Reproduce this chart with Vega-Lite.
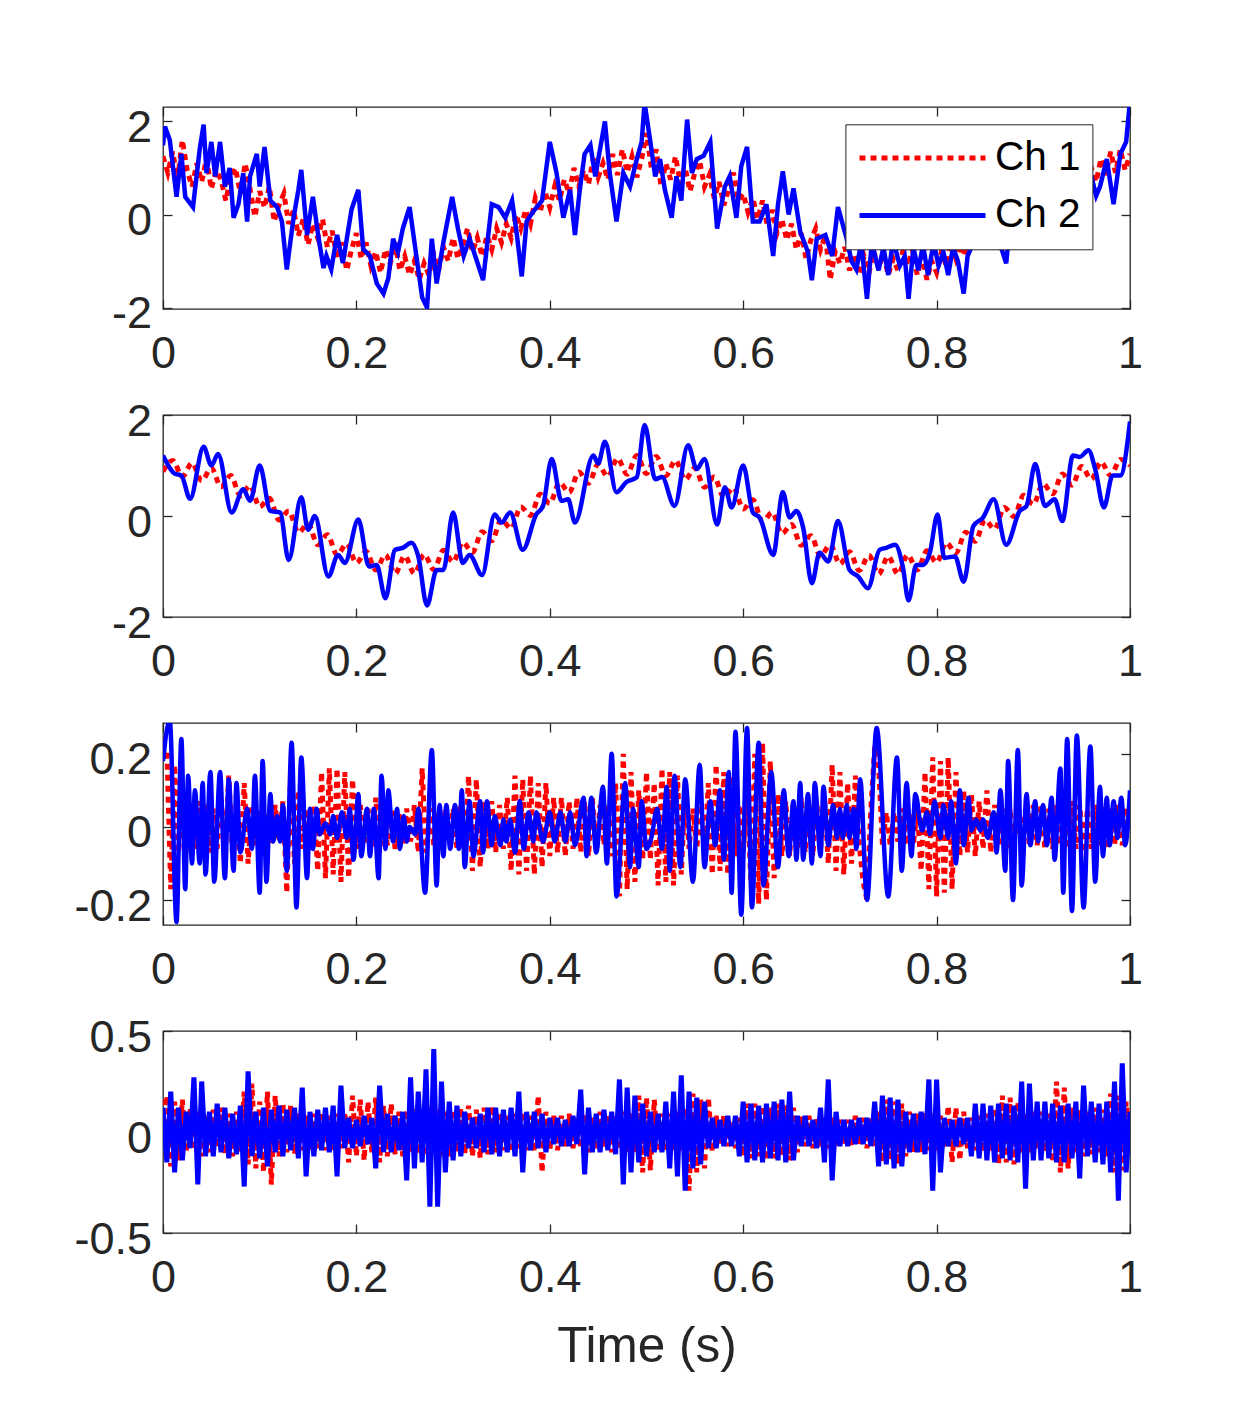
{
  "$schema": "https://vega.github.io/schema/vega-lite/v6.json",
  "background": "white",
  "padding": {"left": 73, "top": 104, "right": 20, "bottom": 10},
  "bounds": "flush",
  "spacing": 106,
  "config": {
    "font": "Liberation Sans",
    "view": {"stroke": "#262626", "strokeWidth": 1.3},
    "axis": {
      "grid": false, "domain": false,
      "tickColor": "#262626", "tickWidth": 1.3, "tickSize": -9,
      "labelColor": "#262626", "labelFont": "Liberation Sans", "labelFontSize": 45,
      "labelFlush": false, "labelOverlap": false
    }
  },
  "resolve": {"scale": {"color": "independent"}, "legend": {"color": "independent"}},
  "datasets": {
    "p1r": [
      {"t":0,"v":1.25},{"t":0.005,"v":0.9},{"t":0.01,"v":1.35},{"t":0.015,"v":0.75},{"t":0.02,"v":1.6},{"t":0.025,"v":0.95},{"t":0.03,"v":0.6},{"t":0.035,"v":1.1},{"t":0.04,"v":0.7},{"t":0.045,"v":1.2},
      {"t":0.05,"v":0.55},{"t":0.055,"v":0.95},{"t":0.06,"v":0.75},{"t":0.065,"v":0.3},{"t":0.07,"v":0.8},{"t":0.075,"v":1.0},{"t":0.08,"v":0.45},{"t":0.085,"v":1.1},{"t":0.09,"v":0.55},{"t":0.095,"v":-0.05},
      {"t":0.1,"v":0.5},{"t":0.105,"v":0.15},{"t":0.11,"v":0.6},{"t":0.115,"v":-0.15},{"t":0.12,"v":0.2},{"t":0.125,"v":0.45},{"t":0.13,"v":-0.2},{"t":0.135,"v":0.1},{"t":0.14,"v":-0.45},{"t":0.145,"v":-0.1},
      {"t":0.15,"v":-0.65},{"t":0.155,"v":-0.2},{"t":0.16,"v":-0.5},{"t":0.165,"v":-0.1},{"t":0.17,"v":-0.7},{"t":0.175,"v":-0.35},{"t":0.18,"v":-0.95},{"t":0.185,"v":-0.6},{"t":0.19,"v":-1.2},{"t":0.195,"v":-0.75},
      {"t":0.2,"v":-0.4},{"t":0.205,"v":-0.95},{"t":0.21,"v":-0.6},{"t":0.215,"v":-1.1},{"t":0.22,"v":-0.8},{"t":0.225,"v":-1.25},{"t":0.23,"v":-0.75},{"t":0.235,"v":-1.05},{"t":0.24,"v":-0.6},{"t":0.245,"v":-1.2},
      {"t":0.25,"v":-0.9},{"t":0.255,"v":-1.3},{"t":0.26,"v":-1.0},{"t":0.265,"v":-1.4},{"t":0.27,"v":-1.05},{"t":0.275,"v":-1.3},{"t":0.28,"v":-0.85},{"t":0.285,"v":-1.2},{"t":0.29,"v":-0.7},{"t":0.295,"v":-1.0},
      {"t":0.3,"v":-0.5},{"t":0.305,"v":-0.95},{"t":0.31,"v":-0.65},{"t":0.315,"v":-0.3},{"t":0.32,"v":-0.8},{"t":0.325,"v":-0.5},{"t":0.33,"v":-0.9},{"t":0.335,"v":-0.45},{"t":0.34,"v":-0.75},{"t":0.345,"v":-0.3},
      {"t":0.35,"v":-0.6},{"t":0.355,"v":-0.2},{"t":0.36,"v":-0.5},{"t":0.365,"v":0.0},{"t":0.37,"v":-0.3},{"t":0.375,"v":0.1},{"t":0.38,"v":-0.2},{"t":0.385,"v":0.35},{"t":0.39,"v":0.05},{"t":0.395,"v":0.5},
      {"t":0.4,"v":0.15},{"t":0.405,"v":0.6},{"t":0.41,"v":0.3},{"t":0.415,"v":0.75},{"t":0.42,"v":0.45},{"t":0.425,"v":1.0},{"t":0.43,"v":0.6},{"t":0.435,"v":0.95},{"t":0.44,"v":0.65},{"t":0.445,"v":1.2},
      {"t":0.45,"v":0.8},{"t":0.455,"v":1.1},{"t":0.46,"v":0.75},{"t":0.465,"v":1.3},{"t":0.47,"v":0.85},{"t":0.475,"v":1.4},{"t":0.48,"v":0.9},{"t":0.485,"v":1.25},{"t":0.49,"v":0.8},{"t":0.495,"v":1.2},
      {"t":0.5,"v":1.75},{"t":0.505,"v":1.0},{"t":0.51,"v":1.4},{"t":0.515,"v":0.6},{"t":0.52,"v":1.1},{"t":0.525,"v":0.75},{"t":0.53,"v":1.25},{"t":0.535,"v":0.65},{"t":0.54,"v":1.0},{"t":0.545,"v":0.5},
      {"t":0.55,"v":0.9},{"t":0.555,"v":1.15},{"t":0.56,"v":0.6},{"t":0.565,"v":0.85},{"t":0.57,"v":0.35},{"t":0.575,"v":0.7},{"t":0.58,"v":0.2},{"t":0.585,"v":0.55},{"t":0.59,"v":0.9},{"t":0.595,"v":0.3},
      {"t":0.6,"v":0.45},{"t":0.605,"v":0.05},{"t":0.61,"v":0.35},{"t":0.615,"v":-0.1},{"t":0.62,"v":0.3},{"t":0.625,"v":-0.25},{"t":0.63,"v":0.1},{"t":0.635,"v":-0.4},{"t":0.64,"v":-0.1},{"t":0.645,"v":-0.55},
      {"t":0.65,"v":-0.2},{"t":0.655,"v":-0.75},{"t":0.66,"v":-0.4},{"t":0.665,"v":-0.95},{"t":0.67,"v":-0.55},{"t":0.675,"v":-0.3},{"t":0.68,"v":-0.75},{"t":0.685,"v":-0.45},{"t":0.69,"v":-1.4},{"t":0.695,"v":-0.8},
      {"t":0.7,"v":-1.05},{"t":0.705,"v":-0.7},{"t":0.71,"v":-1.2},{"t":0.715,"v":-0.85},{"t":0.72,"v":-1.3},{"t":0.725,"v":-0.9},{"t":0.73,"v":-1.25},{"t":0.735,"v":-0.8},{"t":0.74,"v":-1.15},{"t":0.745,"v":-0.85},
      {"t":0.75,"v":-1.3},{"t":0.755,"v":-0.95},{"t":0.76,"v":-1.2},{"t":0.765,"v":-0.8},{"t":0.77,"v":-1.1},{"t":0.775,"v":-0.75},{"t":0.78,"v":-1.3},{"t":0.785,"v":-0.9},{"t":0.79,"v":-1.4},{"t":0.795,"v":-1.0},
      {"t":0.8,"v":-1.25},{"t":0.805,"v":-0.8},{"t":0.81,"v":-1.1},{"t":0.815,"v":-0.6},{"t":0.82,"v":-0.95},{"t":0.825,"v":-0.65},{"t":0.83,"v":-0.9},{"t":0.835,"v":-0.5},{"t":0.84,"v":-0.7},{"t":0.845,"v":-0.25},
      {"t":0.85,"v":-0.5},{"t":0.855,"v":-0.1},{"t":0.86,"v":-0.35},{"t":0.865,"v":0.05},{"t":0.87,"v":-0.2},{"t":0.875,"v":0.3},{"t":0.88,"v":0.0},{"t":0.885,"v":0.45},{"t":0.89,"v":0.2},{"t":0.895,"v":0.55},
      {"t":0.9,"v":0.3},{"t":0.905,"v":0.7},{"t":0.91,"v":0.4},{"t":0.915,"v":0.8},{"t":0.92,"v":0.55},{"t":0.925,"v":0.95},{"t":0.93,"v":0.6},{"t":0.935,"v":1.0},{"t":0.94,"v":0.7},{"t":0.945,"v":1.1},
      {"t":0.95,"v":0.75},{"t":0.955,"v":0.55},{"t":0.96,"v":1.0},{"t":0.965,"v":0.7},{"t":0.97,"v":1.2},{"t":0.975,"v":0.85},{"t":0.98,"v":1.35},{"t":0.985,"v":0.9},{"t":0.99,"v":1.4},{"t":0.995,"v":0.95},
      {"t":1,"v":1.3}
    ],
    "p1b": [
      {"t":0,"v":1.49},{"t":0.002,"v":1.89},{"t":0.007,"v":1.6},{"t":0.014,"v":0.38},{"t":0.019,"v":1.3},{"t":0.023,"v":0.38},{"t":0.031,"v":0.16},{"t":0.038,"v":1.41},{"t":0.042,"v":1.93},{"t":0.045,"v":0.89},
      {"t":0.05,"v":1.56},{"t":0.054,"v":0.82},{"t":0.059,"v":1.56},{"t":0.064,"v":0.6},{"t":0.069,"v":1.0},{"t":0.073,"v":-0.07},{"t":0.078,"v":0.22},{"t":0.083,"v":0.89},{"t":0.087,"v":-0.15},{"t":0.09,"v":0.82},
      {"t":0.097,"v":1.3},{"t":0.1,"v":0.6},{"t":0.105,"v":1.45},{"t":0.111,"v":0.3},{"t":0.118,"v":0.16},{"t":0.123,"v":-0.15},{"t":0.128,"v":-1.18},{"t":0.135,"v":-0.07},{"t":0.14,"v":0.53},{"t":0.143,"v":0.96},
      {"t":0.149,"v":-0.44},{"t":0.155,"v":0.38},{"t":0.161,"v":-0.52},{"t":0.166,"v":-1.15},{"t":0.169,"v":-0.89},{"t":0.174,"v":-1.18},{"t":0.18,"v":-0.44},{"t":0.186,"v":-1.04},{"t":0.195,"v":0.11},{"t":0.202,"v":0.53},
      {"t":0.207,"v":-0.74},{"t":0.214,"v":-0.89},{"t":0.221,"v":-1.48},{"t":0.228,"v":-1.7},{"t":0.233,"v":-1.37},{"t":0.238,"v":-0.52},{"t":0.243,"v":-0.81},{"t":0.248,"v":-0.3},{"t":0.255,"v":0.16},{"t":0.261,"v":-0.74},
      {"t":0.268,"v":-1.78},{"t":0.273,"v":-2.0},{"t":0.278,"v":-0.52},{"t":0.283,"v":-1.48},{"t":0.29,"v":-0.59},{"t":0.299,"v":0.38},{"t":0.305,"v":-0.3},{"t":0.311,"v":-0.89},{"t":0.317,"v":-0.52},{"t":0.324,"v":-0.96},
      {"t":0.331,"v":-1.41},{"t":0.34,"v":0.22},{"t":0.347,"v":0.16},{"t":0.354,"v":-0.07},{"t":0.361,"v":0.3},{"t":0.366,"v":-0.44},{"t":0.371,"v":-1.33},{"t":0.376,"v":-0.15},{"t":0.383,"v":0.07},{"t":0.392,"v":0.3},
      {"t":0.4,"v":1.56},{"t":0.407,"v":0.89},{"t":0.414,"v":-0.07},{"t":0.421,"v":0.53},{"t":0.426,"v":-0.44},{"t":0.431,"v":0.53},{"t":0.436,"v":1.3},{"t":0.442,"v":1.49},{"t":0.447,"v":0.82},{"t":0.457,"v":2.0},
      {"t":0.462,"v":0.89},{"t":0.469,"v":-0.15},{"t":0.476,"v":0.89},{"t":0.483,"v":0.6},{"t":0.49,"v":1.19},{"t":0.495,"v":1.56},{"t":0.498,"v":2.4},{"t":0.504,"v":1.56},{"t":0.509,"v":0.82},{"t":0.514,"v":1.19},
      {"t":0.519,"v":0.53},{"t":0.526,"v":-0.07},{"t":0.531,"v":0.82},{"t":0.536,"v":0.3},{"t":0.542,"v":2.04},{"t":0.547,"v":0.89},{"t":0.552,"v":1.19},{"t":0.559,"v":1.26},{"t":0.566,"v":1.56},{"t":0.573,"v":-0.3},
      {"t":0.581,"v":0.6},{"t":0.586,"v":0.82},{"t":0.593,"v":-0.07},{"t":0.598,"v":1.04},{"t":0.604,"v":1.45},{"t":0.61,"v":-0.15},{"t":0.617,"v":-0.15},{"t":0.624,"v":0.22},{"t":0.631,"v":-0.89},{"t":0.636,"v":0.22},
      {"t":0.641,"v":0.93},{"t":0.647,"v":0.0},{"t":0.652,"v":0.56},{"t":0.659,"v":-0.37},{"t":0.667,"v":-0.81},{"t":0.671,"v":-1.41},{"t":0.676,"v":-0.52},{"t":0.685,"v":-0.44},{"t":0.692,"v":-0.89},{"t":0.698,"v":0.16},
      {"t":0.707,"v":-0.52},{"t":0.712,"v":-1.0},{"t":0.717,"v":-1.18},{"t":0.722,"v":-0.6},{"t":0.728,"v":-1.81},{"t":0.733,"v":-0.6},{"t":0.74,"v":-1.2},{"t":0.745,"v":-0.7},{"t":0.75,"v":-1.3},{"t":0.755,"v":-0.55},
      {"t":0.762,"v":-1.1},{"t":0.767,"v":-0.9},{"t":0.771,"v":-1.81},{"t":0.776,"v":-0.7},{"t":0.781,"v":-1.2},{"t":0.786,"v":-0.65},{"t":0.791,"v":-1.3},{"t":0.797,"v":-0.6},{"t":0.802,"v":-1.1},{"t":0.807,"v":-0.8},
      {"t":0.812,"v":-1.3},{"t":0.817,"v":-0.7},{"t":0.822,"v":-1.0},{"t":0.828,"v":-1.7},{"t":0.832,"v":-0.9},{"t":0.838,"v":-0.6},{"t":0.845,"v":-0.2},{"t":0.852,"v":0.4},{"t":0.858,"v":0.1},{"t":0.865,"v":-0.6},
      {"t":0.872,"v":-1.05},{"t":0.878,"v":0.3},{"t":0.885,"v":-0.2},{"t":0.892,"v":0.5},{"t":0.898,"v":1.2},{"t":0.905,"v":0.8},{"t":0.912,"v":0.1},{"t":0.918,"v":0.6},{"t":0.925,"v":-0.3},{"t":0.932,"v":0.2},
      {"t":0.938,"v":1.3},{"t":0.945,"v":0.9},{"t":0.952,"v":1.5},{"t":0.958,"v":1.0},{"t":0.965,"v":0.4},{"t":0.969,"v":0.6},{"t":0.976,"v":1.19},{"t":0.983,"v":0.22},{"t":0.99,"v":1.3},{"t":0.996,"v":1.56},
      {"t":1,"v":2.44}
    ],
    "p2r": [
      {"t":0,"v":0.88},{"t":0.01,"v":1.1},{"t":0.02,"v":0.78},{"t":0.03,"v":1.05},{"t":0.04,"v":0.7},{"t":0.05,"v":0.95},{"t":0.06,"v":0.58},{"t":0.07,"v":0.8},{"t":0.08,"v":0.4},{"t":0.09,"v":0.6},
      {"t":0.1,"v":0.18},{"t":0.11,"v":0.35},{"t":0.12,"v":-0.08},{"t":0.13,"v":0.1},{"t":0.14,"v":-0.33},{"t":0.15,"v":-0.15},{"t":0.16,"v":-0.57},{"t":0.17,"v":-0.37},{"t":0.18,"v":-0.77},{"t":0.19,"v":-0.55},
      {"t":0.2,"v":-0.93},{"t":0.21,"v":-0.7},{"t":0.22,"v":-1.07},{"t":0.23,"v":-0.77},{"t":0.24,"v":-1.14},{"t":0.25,"v":-0.79},{"t":0.26,"v":-1.14},{"t":0.27,"v":-0.76},{"t":0.28,"v":-1.06},{"t":0.29,"v":-0.68},
      {"t":0.3,"v":-0.91},{"t":0.31,"v":-0.52},{"t":0.32,"v":-0.72},{"t":0.33,"v":-0.31},{"t":0.34,"v":-0.49},{"t":0.35,"v":-0.07},{"t":0.36,"v":-0.25},{"t":0.37,"v":0.18},{"t":0.38,"v":0.01},{"t":0.39,"v":0.43},
      {"t":0.4,"v":0.25},{"t":0.41,"v":0.66},{"t":0.42,"v":0.47},{"t":0.43,"v":0.87},{"t":0.44,"v":0.65},{"t":0.45,"v":1.02},{"t":0.46,"v":0.78},{"t":0.47,"v":1.14},{"t":0.48,"v":0.83},{"t":0.49,"v":1.2},
      {"t":0.5,"v":0.84},{"t":0.51,"v":1.18},{"t":0.52,"v":0.8},{"t":0.53,"v":1.1},{"t":0.54,"v":0.72},{"t":0.55,"v":0.95},{"t":0.56,"v":0.57},{"t":0.57,"v":0.77},{"t":0.58,"v":0.37},{"t":0.59,"v":0.56},
      {"t":0.6,"v":0.14},{"t":0.61,"v":0.32},{"t":0.62,"v":-0.11},{"t":0.63,"v":0.07},{"t":0.64,"v":-0.35},{"t":0.65,"v":-0.17},{"t":0.66,"v":-0.58},{"t":0.67,"v":-0.39},{"t":0.68,"v":-0.79},{"t":0.69,"v":-0.57},
      {"t":0.7,"v":-0.95},{"t":0.71,"v":-0.71},{"t":0.72,"v":-1.08},{"t":0.73,"v":-0.78},{"t":0.74,"v":-1.15},{"t":0.75,"v":-0.8},{"t":0.76,"v":-1.15},{"t":0.77,"v":-0.77},{"t":0.78,"v":-1.07},{"t":0.79,"v":-0.69},
      {"t":0.8,"v":-0.92},{"t":0.81,"v":-0.53},{"t":0.82,"v":-0.73},{"t":0.83,"v":-0.32},{"t":0.84,"v":-0.5},{"t":0.85,"v":-0.08},{"t":0.86,"v":-0.26},{"t":0.87,"v":0.17},{"t":0.88,"v":-0.01},{"t":0.89,"v":0.41},
      {"t":0.9,"v":0.23},{"t":0.91,"v":0.64},{"t":0.92,"v":0.44},{"t":0.93,"v":0.83},{"t":0.94,"v":0.61},{"t":0.95,"v":0.98},{"t":0.96,"v":0.73},{"t":0.97,"v":1.07},{"t":0.98,"v":0.8},{"t":0.99,"v":1.12},
      {"t":1,"v":1.0}
    ],
    "p2b": [
      {"t":0,"v":1.2},{"t":0.012,"v":0.84},{"t":0.019,"v":0.8},{"t":0.028,"v":0.34},{"t":0.042,"v":1.37},{"t":0.05,"v":1.0},{"t":0.057,"v":1.23},{"t":0.071,"v":0.07},{"t":0.083,"v":0.53},{"t":0.09,"v":0.3},
      {"t":0.1,"v":1.0},{"t":0.111,"v":0.1},{"t":0.121,"v":0.07},{"t":0.13,"v":-0.87},{"t":0.143,"v":0.37},{"t":0.15,"v":-0.27},{"t":0.157,"v":0.0},{"t":0.171,"v":-1.2},{"t":0.181,"v":-0.77},{"t":0.188,"v":-0.93},
      {"t":0.202,"v":-0.07},{"t":0.213,"v":-1.0},{"t":0.221,"v":-0.97},{"t":0.23,"v":-1.63},{"t":0.24,"v":-0.67},{"t":0.248,"v":-0.63},{"t":0.257,"v":-0.53},{"t":0.264,"v":-0.8},{"t":0.273,"v":-1.77},{"t":0.283,"v":-1.07},
      {"t":0.29,"v":-1.07},{"t":0.3,"v":0.07},{"t":0.31,"v":-0.93},{"t":0.317,"v":-0.77},{"t":0.33,"v":-1.17},{"t":0.343,"v":0.03},{"t":0.35,"v":-0.13},{"t":0.359,"v":0.07},{"t":0.372,"v":-0.67},{"t":0.386,"v":0.03},
      {"t":0.393,"v":0.2},{"t":0.402,"v":1.13},{"t":0.412,"v":0.3},{"t":0.419,"v":0.33},{"t":0.426,"v":-0.13},{"t":0.445,"v":1.2},{"t":0.45,"v":1.04},{"t":0.457,"v":1.47},{"t":0.469,"v":0.47},{"t":0.479,"v":0.67},
      {"t":0.49,"v":0.77},{"t":0.498,"v":1.8},{"t":0.509,"v":0.73},{"t":0.516,"v":0.77},{"t":0.529,"v":0.2},{"t":0.543,"v":1.4},{"t":0.552,"v":0.93},{"t":0.56,"v":1.13},{"t":0.573,"v":-0.17},{"t":0.581,"v":0.57},
      {"t":0.588,"v":0.17},{"t":0.6,"v":1.0},{"t":0.61,"v":0.07},{"t":0.617,"v":-0.03},{"t":0.631,"v":-0.77},{"t":0.641,"v":0.47},{"t":0.648,"v":-0.03},{"t":0.655,"v":0.1},{"t":0.662,"v":-0.23},{"t":0.671,"v":-1.33},
      {"t":0.679,"v":-0.73},{"t":0.688,"v":-0.9},{"t":0.698,"v":-0.1},{"t":0.71,"v":-1.07},{"t":0.719,"v":-1.2},{"t":0.729,"v":-1.43},{"t":0.741,"v":-0.67},{"t":0.748,"v":-0.63},{"t":0.757,"v":-0.57},{"t":0.765,"v":-1.0},
      {"t":0.771,"v":-1.67},{"t":0.779,"v":-0.97},{"t":0.786,"v":-0.97},{"t":0.793,"v":-0.73},{"t":0.801,"v":0.03},{"t":0.808,"v":-0.83},{"t":0.819,"v":-0.8},{"t":0.828,"v":-1.3},{"t":0.838,"v":-0.2},{"t":0.848,"v":-0.03},
      {"t":0.859,"v":0.33},{"t":0.872,"v":-0.57},{"t":0.886,"v":0.1},{"t":0.893,"v":0.2},{"t":0.902,"v":1.03},{"t":0.912,"v":0.2},{"t":0.922,"v":0.33},{"t":0.93,"v":-0.1},{"t":0.941,"v":1.2},{"t":0.948,"v":1.17},
      {"t":0.957,"v":1.3},{"t":0.964,"v":0.93},{"t":0.973,"v":0.17},{"t":0.982,"v":0.8},{"t":0.99,"v":0.8},{"t":1,"v":1.87}
    ],
    "p3r": [
      {"t":0,"v":0.19},{"t":0.004,"v":0.21},{"t":0.008,"v":-0.17},{"t":0.012,"v":0.17},{"t":0.016,"v":-0.07},{"t":0.02,"v":0.06},{"t":0.024,"v":-0.07},{"t":0.028,"v":0.05},{"t":0.032,"v":-0.06},{"t":0.036,"v":0.07},
      {"t":0.04,"v":-0.05},{"t":0.044,"v":0.06},{"t":0.048,"v":-0.07},{"t":0.052,"v":0.05},{"t":0.056,"v":-0.06},{"t":0.06,"v":0.08},{"t":0.064,"v":-0.08},{"t":0.068,"v":0.14},{"t":0.072,"v":-0.08},{"t":0.076,"v":0.06},
      {"t":0.08,"v":-0.1},{"t":0.084,"v":0.12},{"t":0.088,"v":-0.1},{"t":0.092,"v":0.06},{"t":0.096,"v":-0.05},{"t":0.1,"v":0.05},{"t":0.104,"v":-0.06},{"t":0.108,"v":0.04},{"t":0.112,"v":-0.05},{"t":0.116,"v":0.06},
      {"t":0.12,"v":-0.04},{"t":0.124,"v":0.07},{"t":0.128,"v":-0.18},{"t":0.132,"v":0.15},{"t":0.136,"v":-0.1},{"t":0.14,"v":0.1},{"t":0.144,"v":-0.06},{"t":0.148,"v":0.05},{"t":0.152,"v":-0.05},{"t":0.156,"v":0.06},
      {"t":0.16,"v":-0.12},{"t":0.164,"v":0.15},{"t":0.168,"v":-0.14},{"t":0.172,"v":0.16},{"t":0.176,"v":-0.13},{"t":0.18,"v":0.16},{"t":0.184,"v":-0.15},{"t":0.188,"v":0.15},{"t":0.192,"v":-0.14},{"t":0.196,"v":0.13},
      {"t":0.2,"v":-0.06},{"t":0.204,"v":0.06},{"t":0.208,"v":-0.05},{"t":0.212,"v":0.05},{"t":0.216,"v":-0.06},{"t":0.22,"v":0.08},{"t":0.224,"v":-0.07},{"t":0.228,"v":0.06},{"t":0.232,"v":-0.05},{"t":0.236,"v":0.05},
      {"t":0.24,"v":-0.06},{"t":0.244,"v":0.04},{"t":0.248,"v":-0.05},{"t":0.252,"v":0.05},{"t":0.256,"v":-0.04},{"t":0.26,"v":0.06},{"t":0.264,"v":-0.07},{"t":0.268,"v":0.16},{"t":0.272,"v":-0.07},{"t":0.276,"v":0.05},
      {"t":0.28,"v":-0.05},{"t":0.284,"v":0.04},{"t":0.288,"v":-0.05},{"t":0.292,"v":0.05},{"t":0.296,"v":-0.04},{"t":0.3,"v":0.05},{"t":0.304,"v":-0.06},{"t":0.308,"v":0.06},{"t":0.312,"v":-0.08},{"t":0.316,"v":0.14},
      {"t":0.32,"v":-0.12},{"t":0.324,"v":0.13},{"t":0.328,"v":-0.11},{"t":0.332,"v":0.07},{"t":0.336,"v":-0.06},{"t":0.34,"v":0.07},{"t":0.344,"v":-0.07},{"t":0.348,"v":0.06},{"t":0.352,"v":-0.06},{"t":0.356,"v":0.08},
      {"t":0.36,"v":-0.12},{"t":0.364,"v":0.14},{"t":0.368,"v":-0.13},{"t":0.372,"v":0.13},{"t":0.376,"v":-0.12},{"t":0.38,"v":0.14},{"t":0.384,"v":-0.13},{"t":0.388,"v":0.12},{"t":0.392,"v":-0.11},{"t":0.396,"v":0.12},
      {"t":0.4,"v":-0.08},{"t":0.404,"v":0.08},{"t":0.408,"v":-0.07},{"t":0.412,"v":0.08},{"t":0.416,"v":-0.08},{"t":0.42,"v":0.07},{"t":0.424,"v":-0.06},{"t":0.428,"v":0.08},{"t":0.432,"v":-0.07},{"t":0.436,"v":0.07},
      {"t":0.44,"v":-0.08},{"t":0.444,"v":0.08},{"t":0.448,"v":-0.07},{"t":0.452,"v":0.06},{"t":0.456,"v":-0.05},{"t":0.46,"v":0.06},{"t":0.464,"v":-0.08},{"t":0.468,"v":0.12},{"t":0.472,"v":-0.19},{"t":0.476,"v":0.2},
      {"t":0.48,"v":-0.17},{"t":0.484,"v":0.15},{"t":0.488,"v":-0.15},{"t":0.492,"v":0.1},{"t":0.496,"v":-0.09},{"t":0.5,"v":0.15},{"t":0.504,"v":-0.09},{"t":0.508,"v":0.12},{"t":0.512,"v":-0.16},{"t":0.516,"v":0.16},
      {"t":0.52,"v":-0.15},{"t":0.524,"v":0.15},{"t":0.528,"v":-0.16},{"t":0.532,"v":0.14},{"t":0.536,"v":-0.13},{"t":0.54,"v":0.1},{"t":0.544,"v":-0.06},{"t":0.548,"v":0.05},{"t":0.552,"v":-0.06},{"t":0.556,"v":0.06},
      {"t":0.56,"v":-0.07},{"t":0.564,"v":0.12},{"t":0.568,"v":-0.13},{"t":0.572,"v":0.17},{"t":0.576,"v":-0.12},{"t":0.58,"v":0.15},{"t":0.584,"v":-0.13},{"t":0.588,"v":0.14},{"t":0.592,"v":-0.08},{"t":0.596,"v":0.06},
      {"t":0.6,"v":-0.07},{"t":0.604,"v":0.08},{"t":0.608,"v":-0.15},{"t":0.612,"v":0.2},{"t":0.616,"v":-0.21},{"t":0.62,"v":0.23},{"t":0.624,"v":-0.2},{"t":0.628,"v":0.18},{"t":0.632,"v":-0.14},{"t":0.636,"v":0.09},
      {"t":0.64,"v":-0.08},{"t":0.644,"v":0.07},{"t":0.648,"v":-0.08},{"t":0.652,"v":0.07},{"t":0.656,"v":-0.06},{"t":0.66,"v":0.08},{"t":0.664,"v":-0.07},{"t":0.668,"v":0.06},{"t":0.672,"v":-0.08},{"t":0.676,"v":0.07},
      {"t":0.68,"v":-0.06},{"t":0.684,"v":0.08},{"t":0.688,"v":-0.1},{"t":0.692,"v":0.17},{"t":0.696,"v":-0.12},{"t":0.7,"v":0.15},{"t":0.704,"v":-0.13},{"t":0.708,"v":0.12},{"t":0.712,"v":-0.1},{"t":0.716,"v":0.14},
      {"t":0.72,"v":-0.05},{"t":0.724,"v":-0.15},{"t":0.728,"v":-0.2},{"t":0.732,"v":0.05},{"t":0.736,"v":0.22},{"t":0.74,"v":0.17},{"t":0.744,"v":-0.05},{"t":0.748,"v":0.04},{"t":0.752,"v":-0.05},{"t":0.756,"v":0.04},
      {"t":0.76,"v":-0.04},{"t":0.764,"v":0.05},{"t":0.768,"v":-0.05},{"t":0.772,"v":0.04},{"t":0.776,"v":-0.05},{"t":0.78,"v":0.05},{"t":0.784,"v":-0.12},{"t":0.788,"v":0.15},{"t":0.792,"v":-0.17},{"t":0.796,"v":0.19},
      {"t":0.8,"v":-0.19},{"t":0.804,"v":0.18},{"t":0.808,"v":-0.18},{"t":0.812,"v":0.19},{"t":0.816,"v":-0.17},{"t":0.82,"v":0.15},{"t":0.824,"v":-0.08},{"t":0.828,"v":0.1},{"t":0.832,"v":-0.07},{"t":0.836,"v":0.09},
      {"t":0.84,"v":-0.08},{"t":0.844,"v":0.07},{"t":0.848,"v":-0.06},{"t":0.852,"v":0.1},{"t":0.856,"v":-0.07},{"t":0.86,"v":0.06},{"t":0.864,"v":-0.05},{"t":0.868,"v":0.05},{"t":0.872,"v":-0.06},{"t":0.876,"v":0.05},
      {"t":0.88,"v":-0.05},{"t":0.884,"v":0.06},{"t":0.888,"v":-0.06},{"t":0.892,"v":0.05},{"t":0.896,"v":-0.05},{"t":0.9,"v":0.06},{"t":0.904,"v":-0.05},{"t":0.908,"v":0.06},{"t":0.912,"v":-0.06},{"t":0.916,"v":0.05},
      {"t":0.92,"v":-0.06},{"t":0.924,"v":0.06},{"t":0.928,"v":-0.05},{"t":0.932,"v":0.05},{"t":0.936,"v":-0.06},{"t":0.94,"v":0.07},{"t":0.944,"v":-0.06},{"t":0.948,"v":0.06},{"t":0.952,"v":-0.07},{"t":0.956,"v":0.05},
      {"t":0.96,"v":-0.06},{"t":0.964,"v":0.06},{"t":0.968,"v":-0.05},{"t":0.972,"v":0.06},{"t":0.976,"v":-0.06},{"t":0.98,"v":0.05},{"t":0.984,"v":-0.05},{"t":0.988,"v":0.06},{"t":0.992,"v":-0.05},{"t":0.996,"v":0.05},
      {"t":1,"v":0.01}
    ],
    "p3b": [
      {"t":0,"v":0.18},{"t":0.007,"v":0.29},{"t":0.014,"v":-0.26},{"t":0.019,"v":0.24},{"t":0.023,"v":-0.17},{"t":0.026,"v":0.14},{"t":0.03,"v":-0.1},{"t":0.033,"v":0.1},{"t":0.038,"v":-0.1},{"t":0.041,"v":0.12},
      {"t":0.044,"v":-0.13},{"t":0.049,"v":0.15},{"t":0.053,"v":-0.15},{"t":0.059,"v":0.15},{"t":0.064,"v":-0.14},{"t":0.068,"v":0.13},{"t":0.073,"v":-0.12},{"t":0.076,"v":0.12},{"t":0.08,"v":-0.07},{"t":0.087,"v":0.05},
      {"t":0.092,"v":-0.06},{"t":0.095,"v":0.14},{"t":0.1,"v":-0.18},{"t":0.103,"v":0.18},{"t":0.107,"v":-0.15},{"t":0.111,"v":0.09},{"t":0.114,"v":-0.04},{"t":0.118,"v":0.03},{"t":0.121,"v":-0.04},{"t":0.124,"v":0.06},
      {"t":0.128,"v":-0.12},{"t":0.133,"v":0.23},{"t":0.138,"v":-0.22},{"t":0.143,"v":0.19},{"t":0.149,"v":-0.14},{"t":0.152,"v":0.05},{"t":0.155,"v":-0.06},{"t":0.159,"v":0.05},{"t":0.162,"v":-0.02},{"t":0.168,"v":0.01},
      {"t":0.173,"v":-0.02},{"t":0.176,"v":0.03},{"t":0.18,"v":-0.03},{"t":0.185,"v":0.04},{"t":0.19,"v":-0.03},{"t":0.193,"v":0.05},{"t":0.197,"v":-0.09},{"t":0.202,"v":0.09},{"t":0.205,"v":-0.08},{"t":0.211,"v":0.05},
      {"t":0.214,"v":-0.08},{"t":0.218,"v":0.05},{"t":0.223,"v":-0.14},{"t":0.226,"v":0.14},{"t":0.23,"v":-0.06},{"t":0.233,"v":0.1},{"t":0.238,"v":-0.04},{"t":0.242,"v":0.05},{"t":0.245,"v":-0.06},{"t":0.249,"v":0.03},
      {"t":0.252,"v":-0.04},{"t":0.255,"v":0.0},{"t":0.261,"v":-0.02},{"t":0.264,"v":0.05},{"t":0.271,"v":-0.18},{"t":0.278,"v":0.21},{"t":0.283,"v":-0.16},{"t":0.286,"v":0.06},{"t":0.29,"v":-0.08},{"t":0.293,"v":0.06},
      {"t":0.297,"v":-0.06},{"t":0.302,"v":0.06},{"t":0.306,"v":-0.06},{"t":0.309,"v":0.1},{"t":0.312,"v":-0.11},{"t":0.317,"v":0.07},{"t":0.321,"v":-0.08},{"t":0.328,"v":0.07},{"t":0.331,"v":-0.07},{"t":0.335,"v":0.07},
      {"t":0.34,"v":-0.05},{"t":0.343,"v":0.03},{"t":0.349,"v":-0.05},{"t":0.352,"v":0.02},{"t":0.355,"v":-0.04},{"t":0.359,"v":0.02},{"t":0.364,"v":-0.07},{"t":0.369,"v":0.07},{"t":0.373,"v":-0.06},{"t":0.378,"v":0.04},
      {"t":0.383,"v":-0.04},{"t":0.386,"v":0.04},{"t":0.393,"v":-0.04},{"t":0.4,"v":0.04},{"t":0.405,"v":-0.04},{"t":0.411,"v":0.04},{"t":0.416,"v":-0.04},{"t":0.421,"v":0.04},{"t":0.426,"v":-0.05},{"t":0.435,"v":0.08},
      {"t":0.438,"v":-0.08},{"t":0.443,"v":0.08},{"t":0.448,"v":-0.07},{"t":0.455,"v":0.11},{"t":0.459,"v":-0.1},{"t":0.464,"v":0.2},{"t":0.469,"v":-0.19},{"t":0.478,"v":0.12},{"t":0.483,"v":-0.11},{"t":0.486,"v":0.05},
      {"t":0.492,"v":-0.11},{"t":0.495,"v":0.07},{"t":0.5,"v":-0.06},{"t":0.505,"v":-0.03},{"t":0.511,"v":0.05},{"t":0.516,"v":-0.06},{"t":0.521,"v":0.11},{"t":0.524,"v":-0.12},{"t":0.529,"v":0.14},{"t":0.535,"v":-0.11},
      {"t":0.54,"v":0.13},{"t":0.548,"v":-0.15},{"t":0.555,"v":0.17},{"t":0.56,"v":-0.11},{"t":0.566,"v":0.07},{"t":0.571,"v":-0.05},{"t":0.576,"v":0.1},{"t":0.58,"v":-0.09},{"t":0.585,"v":0.15},{"t":0.588,"v":-0.18},
      {"t":0.592,"v":0.26},{"t":0.598,"v":-0.24},{"t":0.604,"v":0.27},{"t":0.609,"v":-0.22},{"t":0.616,"v":0.23},{"t":0.621,"v":-0.16},{"t":0.629,"v":0.15},{"t":0.636,"v":-0.11},{"t":0.642,"v":0.1},{"t":0.647,"v":-0.08},
      {"t":0.652,"v":0.07},{"t":0.655,"v":-0.09},{"t":0.659,"v":0.12},{"t":0.662,"v":-0.09},{"t":0.667,"v":0.09},{"t":0.671,"v":-0.1},{"t":0.674,"v":0.12},{"t":0.68,"v":-0.08},{"t":0.683,"v":0.11},{"t":0.688,"v":-0.05},
      {"t":0.693,"v":0.06},{"t":0.697,"v":-0.03},{"t":0.7,"v":0.05},{"t":0.703,"v":-0.03},{"t":0.707,"v":0.06},{"t":0.71,"v":-0.03},{"t":0.714,"v":0.05},{"t":0.717,"v":-0.06},{"t":0.721,"v":0.13},{"t":0.728,"v":-0.2},
      {"t":0.738,"v":0.27},{"t":0.75,"v":-0.19},{"t":0.759,"v":0.19},{"t":0.764,"v":-0.12},{"t":0.769,"v":0.12},{"t":0.774,"v":-0.08},{"t":0.778,"v":0.09},{"t":0.785,"v":-0.01},{"t":0.79,"v":0.04},{"t":0.793,"v":-0.02},
      {"t":0.798,"v":0.07},{"t":0.804,"v":-0.03},{"t":0.807,"v":0.06},{"t":0.812,"v":-0.03},{"t":0.815,"v":0.07},{"t":0.82,"v":-0.1},{"t":0.824,"v":0.1},{"t":0.828,"v":-0.05},{"t":0.833,"v":0.08},{"t":0.836,"v":-0.01},
      {"t":0.841,"v":0.02},{"t":0.845,"v":-0.01},{"t":0.848,"v":0.02},{"t":0.853,"v":-0.03},{"t":0.859,"v":0.04},{"t":0.862,"v":-0.07},{"t":0.866,"v":0.1},{"t":0.871,"v":-0.12},{"t":0.874,"v":0.18},{"t":0.879,"v":-0.2},
      {"t":0.884,"v":0.21},{"t":0.888,"v":-0.16},{"t":0.893,"v":0.09},{"t":0.897,"v":-0.05},{"t":0.902,"v":0.07},{"t":0.905,"v":-0.04},{"t":0.91,"v":0.06},{"t":0.914,"v":-0.05},{"t":0.919,"v":0.08},{"t":0.922,"v":-0.09},
      {"t":0.928,"v":0.16},{"t":0.931,"v":-0.18},{"t":0.935,"v":0.24},{"t":0.94,"v":-0.23},{"t":0.945,"v":0.25},{"t":0.952,"v":-0.22},{"t":0.959,"v":0.22},{"t":0.964,"v":-0.15},{"t":0.969,"v":0.11},{"t":0.972,"v":-0.08},
      {"t":0.976,"v":0.08},{"t":0.979,"v":-0.05},{"t":0.983,"v":0.07},{"t":0.987,"v":-0.03},{"t":0.991,"v":0.08},{"t":0.995,"v":-0.05},{"t":1,"v":0.1}
    ],
    "p4": [
      {"t":0,"a":0.08,"b":0.12},{"t":0.004,"a":0.18,"b":-0.15},{"t":0.008,"a":-0.17,"b":0.2},{"t":0.012,"a":0.15,"b":-0.2},{"t":0.016,"a":-0.14,"b":0.12},{"t":0.02,"a":0.16,"b":-0.14},{"t":0.024,"a":-0.1,"b":0.1},{"t":0.028,"a":0.12,"b":-0.08},{"t":0.032,"a":-0.09,"b":0.27},{"t":0.036,"a":0.1,"b":-0.26},
      {"t":0.04,"a":-0.12,"b":0.25},{"t":0.044,"a":0.08,"b":-0.12},{"t":0.048,"a":-0.1,"b":0.1},{"t":0.052,"a":0.11,"b":-0.12},{"t":0.056,"a":-0.08,"b":0.14},{"t":0.06,"a":0.12,"b":-0.1},{"t":0.064,"a":-0.11,"b":0.12},{"t":0.068,"a":0.09,"b":-0.13},{"t":0.072,"a":-0.12,"b":0.09},{"t":0.076,"a":0.1,"b":-0.11},
      {"t":0.08,"a":-0.1,"b":0.13},{"t":0.084,"a":0.2,"b":-0.27},{"t":0.088,"a":-0.16,"b":0.3},{"t":0.092,"a":0.24,"b":-0.12},{"t":0.096,"a":-0.18,"b":0.1},{"t":0.1,"a":0.15,"b":-0.13},{"t":0.104,"a":-0.2,"b":0.12},{"t":0.108,"a":0.2,"b":-0.17},{"t":0.112,"a":-0.26,"b":0.11},{"t":0.116,"a":0.18,"b":-0.1},
      {"t":0.12,"a":-0.12,"b":0.13},{"t":0.124,"a":0.14,"b":-0.12},{"t":0.128,"a":-0.1,"b":0.11},{"t":0.132,"a":0.13,"b":-0.09},{"t":0.136,"a":-0.11,"b":0.12},{"t":0.14,"a":0.1,"b":-0.13},{"t":0.144,"a":-0.09,"b":0.22},{"t":0.148,"a":0.08,"b":-0.22},{"t":0.152,"a":-0.1,"b":0.1},{"t":0.156,"a":0.09,"b":-0.12},
      {"t":0.16,"a":-0.08,"b":0.11},{"t":0.164,"a":0.1,"b":-0.09},{"t":0.168,"a":-0.09,"b":0.12},{"t":0.172,"a":0.08,"b":-0.1},{"t":0.176,"a":-0.1,"b":0.13},{"t":0.18,"a":0.09,"b":-0.22},{"t":0.184,"a":-0.08,"b":0.23},{"t":0.188,"a":0.1,"b":-0.08},{"t":0.192,"a":-0.15,"b":0.07},{"t":0.196,"a":0.18,"b":-0.08},
      {"t":0.2,"a":-0.12,"b":0.06},{"t":0.204,"a":0.16,"b":-0.07},{"t":0.208,"a":-0.14,"b":0.08},{"t":0.212,"a":0.15,"b":-0.06},{"t":0.216,"a":-0.1,"b":0.07},{"t":0.22,"a":0.17,"b":-0.18},{"t":0.224,"a":-0.15,"b":0.23},{"t":0.228,"a":0.13,"b":-0.1},{"t":0.232,"a":-0.12,"b":0.09},{"t":0.236,"a":0.14,"b":-0.1},
      {"t":0.24,"a":-0.11,"b":0.08},{"t":0.244,"a":0.1,"b":-0.09},{"t":0.248,"a":-0.12,"b":0.1},{"t":0.252,"a":0.11,"b":-0.24},{"t":0.256,"a":-0.1,"b":0.27},{"t":0.26,"a":0.12,"b":-0.18},{"t":0.264,"a":-0.11,"b":0.2},{"t":0.268,"a":0.1,"b":-0.15},{"t":0.272,"a":-0.12,"b":0.31},{"t":0.276,"a":0.12,"b":-0.37},
      {"t":0.28,"a":-0.1,"b":0.41},{"t":0.284,"a":0.11,"b":-0.37},{"t":0.288,"a":-0.12,"b":0.25},{"t":0.292,"a":0.1,"b":-0.2},{"t":0.296,"a":-0.12,"b":0.15},{"t":0.3,"a":0.11,"b":-0.14},{"t":0.304,"a":-0.1,"b":0.13},{"t":0.308,"a":0.12,"b":-0.12},{"t":0.312,"a":-0.11,"b":0.1},{"t":0.316,"a":0.13,"b":-0.08},
      {"t":0.32,"a":-0.12,"b":0.07},{"t":0.324,"a":0.11,"b":-0.08},{"t":0.328,"a":-0.13,"b":0.09},{"t":0.332,"a":0.12,"b":-0.1},{"t":0.336,"a":-0.11,"b":0.12},{"t":0.34,"a":0.13,"b":-0.11},{"t":0.344,"a":-0.1,"b":0.12},{"t":0.348,"a":0.1,"b":-0.12},{"t":0.352,"a":-0.09,"b":0.11},{"t":0.356,"a":0.08,"b":-0.1},
      {"t":0.36,"a":-0.1,"b":0.12},{"t":0.364,"a":0.09,"b":-0.12},{"t":0.368,"a":-0.08,"b":0.2},{"t":0.372,"a":0.1,"b":-0.2},{"t":0.376,"a":-0.09,"b":0.1},{"t":0.38,"a":0.08,"b":-0.09},{"t":0.384,"a":-0.1,"b":0.1},{"t":0.388,"a":0.18,"b":-0.08},{"t":0.392,"a":-0.2,"b":0.09},{"t":0.396,"a":0.1,"b":-0.1},
      {"t":0.4,"a":-0.09,"b":0.07},{"t":0.404,"a":0.08,"b":-0.06},{"t":0.408,"a":-0.09,"b":0.07},{"t":0.412,"a":0.08,"b":-0.07},{"t":0.416,"a":-0.07,"b":0.06},{"t":0.42,"a":0.09,"b":-0.07},{"t":0.424,"a":-0.08,"b":0.08},{"t":0.428,"a":0.07,"b":-0.06},{"t":0.432,"a":-0.08,"b":0.21},{"t":0.436,"a":0.09,"b":-0.21},
      {"t":0.44,"a":-0.1,"b":0.12},{"t":0.444,"a":0.08,"b":-0.1},{"t":0.448,"a":-0.09,"b":0.09},{"t":0.452,"a":0.1,"b":-0.1},{"t":0.456,"a":-0.08,"b":0.11},{"t":0.46,"a":0.09,"b":-0.09},{"t":0.464,"a":-0.1,"b":0.1},{"t":0.468,"a":0.08,"b":-0.11},{"t":0.472,"a":-0.09,"b":0.26},{"t":0.476,"a":0.1,"b":-0.26},
      {"t":0.48,"a":-0.1,"b":0.22},{"t":0.484,"a":0.09,"b":-0.2},{"t":0.488,"a":-0.1,"b":0.18},{"t":0.492,"a":0.18,"b":-0.15},{"t":0.496,"a":-0.2,"b":0.14},{"t":0.5,"a":0.17,"b":-0.12},{"t":0.504,"a":-0.19,"b":0.1},{"t":0.508,"a":0.16,"b":-0.1},{"t":0.512,"a":-0.1,"b":0.09},{"t":0.516,"a":0.09,"b":-0.1},
      {"t":0.52,"a":-0.1,"b":0.15},{"t":0.524,"a":0.09,"b":-0.18},{"t":0.528,"a":-0.1,"b":0.2},{"t":0.532,"a":0.1,"b":-0.22},{"t":0.536,"a":-0.09,"b":0.28},{"t":0.54,"a":0.12,"b":-0.29},{"t":0.544,"a":-0.29,"b":0.2},{"t":0.548,"a":0.19,"b":-0.18},{"t":0.552,"a":-0.2,"b":0.17},{"t":0.556,"a":0.16,"b":-0.16},
      {"t":0.56,"a":-0.18,"b":0.15},{"t":0.564,"a":0.17,"b":-0.08},{"t":0.568,"a":-0.1,"b":0.07},{"t":0.572,"a":0.08,"b":-0.08},{"t":0.576,"a":-0.07,"b":0.06},{"t":0.58,"a":0.08,"b":-0.07},{"t":0.584,"a":-0.07,"b":0.08},{"t":0.588,"a":0.06,"b":-0.07},{"t":0.592,"a":-0.08,"b":0.08},{"t":0.596,"a":0.07,"b":-0.12},
      {"t":0.6,"a":-0.12,"b":0.15},{"t":0.604,"a":0.14,"b":-0.15},{"t":0.608,"a":-0.13,"b":0.14},{"t":0.612,"a":0.14,"b":-0.14},{"t":0.616,"a":-0.12,"b":0.13},{"t":0.62,"a":0.13,"b":-0.15},{"t":0.624,"a":-0.14,"b":0.14},{"t":0.628,"a":0.12,"b":-0.13},{"t":0.632,"a":-0.13,"b":0.15},{"t":0.636,"a":0.14,"b":-0.14},
      {"t":0.64,"a":-0.12,"b":0.16},{"t":0.644,"a":0.13,"b":-0.15},{"t":0.648,"a":-0.14,"b":0.2},{"t":0.652,"a":0.12,"b":-0.14},{"t":0.656,"a":-0.1,"b":0.08},{"t":0.66,"a":0.08,"b":-0.07},{"t":0.664,"a":-0.07,"b":0.08},{"t":0.668,"a":0.08,"b":-0.07},{"t":0.672,"a":-0.08,"b":0.06},{"t":0.676,"a":0.07,"b":-0.08},
      {"t":0.68,"a":-0.08,"b":0.12},{"t":0.684,"a":0.07,"b":-0.15},{"t":0.688,"a":-0.08,"b":0.26},{"t":0.692,"a":0.07,"b":-0.24},{"t":0.696,"a":-0.08,"b":0.1},{"t":0.7,"a":0.06,"b":-0.07},{"t":0.704,"a":-0.07,"b":0.06},{"t":0.708,"a":0.06,"b":-0.07},{"t":0.712,"a":-0.07,"b":0.06},{"t":0.716,"a":0.08,"b":-0.06},
      {"t":0.72,"a":-0.06,"b":0.07},{"t":0.724,"a":0.07,"b":-0.06},{"t":0.728,"a":-0.08,"b":0.07},{"t":0.732,"a":0.07,"b":-0.07},{"t":0.736,"a":-0.08,"b":0.15},{"t":0.74,"a":0.1,"b":-0.17},{"t":0.744,"a":-0.15,"b":0.18},{"t":0.748,"a":0.16,"b":-0.16},{"t":0.752,"a":-0.14,"b":0.17},{"t":0.756,"a":0.15,"b":-0.18},
      {"t":0.76,"a":-0.16,"b":0.16},{"t":0.764,"a":0.14,"b":-0.17},{"t":0.768,"a":-0.12,"b":0.1},{"t":0.772,"a":0.1,"b":-0.1},{"t":0.776,"a":-0.1,"b":0.09},{"t":0.78,"a":0.09,"b":-0.1},{"t":0.784,"a":-0.1,"b":0.1},{"t":0.788,"a":0.1,"b":-0.11},{"t":0.792,"a":-0.09,"b":0.26},{"t":0.796,"a":0.1,"b":-0.29},
      {"t":0.8,"a":-0.09,"b":0.26},{"t":0.804,"a":0.08,"b":-0.2},{"t":0.808,"a":-0.07,"b":0.07},{"t":0.812,"a":0.13,"b":-0.07},{"t":0.816,"a":-0.15,"b":0.06},{"t":0.82,"a":0.12,"b":-0.07},{"t":0.824,"a":-0.14,"b":0.07},{"t":0.828,"a":0.1,"b":-0.06},{"t":0.832,"a":-0.08,"b":0.07},{"t":0.836,"a":0.07,"b":-0.12},
      {"t":0.84,"a":-0.09,"b":0.14},{"t":0.844,"a":0.08,"b":-0.13},{"t":0.848,"a":-0.1,"b":0.14},{"t":0.852,"a":0.09,"b":-0.14},{"t":0.856,"a":-0.1,"b":0.13},{"t":0.86,"a":0.12,"b":-0.15},{"t":0.864,"a":-0.16,"b":0.14},{"t":0.868,"a":0.18,"b":-0.13},{"t":0.872,"a":-0.15,"b":0.14},{"t":0.876,"a":0.17,"b":-0.14},
      {"t":0.88,"a":-0.16,"b":0.13},{"t":0.884,"a":0.15,"b":-0.15},{"t":0.888,"a":-0.1,"b":0.25},{"t":0.892,"a":0.09,"b":-0.28},{"t":0.896,"a":-0.1,"b":0.24},{"t":0.9,"a":0.1,"b":-0.14},{"t":0.904,"a":-0.09,"b":0.15},{"t":0.908,"a":0.1,"b":-0.14},{"t":0.912,"a":-0.1,"b":0.15},{"t":0.916,"a":0.09,"b":-0.13},
      {"t":0.92,"a":-0.15,"b":0.14},{"t":0.924,"a":0.25,"b":-0.15},{"t":0.928,"a":-0.2,"b":0.13},{"t":0.932,"a":0.22,"b":-0.15},{"t":0.936,"a":-0.18,"b":0.14},{"t":0.94,"a":0.12,"b":-0.13},{"t":0.944,"a":-0.1,"b":0.15},{"t":0.948,"a":0.11,"b":-0.23},{"t":0.952,"a":-0.12,"b":0.23},{"t":0.956,"a":0.1,"b":-0.12},
      {"t":0.96,"a":-0.11,"b":0.15},{"t":0.964,"a":0.12,"b":-0.15},{"t":0.968,"a":-0.1,"b":0.14},{"t":0.972,"a":0.11,"b":-0.16},{"t":0.976,"a":-0.12,"b":0.15},{"t":0.98,"a":0.19,"b":-0.2},{"t":0.984,"a":-0.2,"b":0.25},{"t":0.988,"a":0.18,"b":-0.34},{"t":0.992,"a":-0.19,"b":0.34},{"t":0.996,"a":0.15,"b":-0.2},
      {"t":1,"a":-0.05,"b":0.1}
    ]
  },
  "vconcat": [
    {
      "width": 967, "height": 202,
      "layer": [
        {
          "data": {"name": "p1r"},
          "mark": {"type": "line", "strokeDash": [6, 5], "strokeWidth": 5, "clip": true},
          "encoding": {
            "x": {"field": "t", "type": "quantitative", "scale": {"domain": [0, 1], "nice": false, "zero": false},
                  "axis": {"orient": "bottom", "values": [0, 0.2, 0.4, 0.6, 0.8, 1], "labelExpr": "datum.value + ''", "labelPadding": 31, "title": null}},
            "y": {"field": "v", "type": "quantitative", "scale": {"domain": [-2.03, 2.31], "nice": false, "zero": false},
                  "axis": {"orient": "left", "values": [-2, 0, 2], "labelExpr": "datum.value + ''", "labelPadding": 20.5, "labelOffset": 6, "title": null}},
            "color": {"datum": "Ch 1", "scale": {"domain": ["Ch 1", "Ch 2"], "range": ["#ff0000", "#0000ff"]},
                      "legend": {"orient": "none", "legendX": 682.4, "legendY": 17.3, "title": null, "direction": "vertical",
                                 "symbolType": "stroke", "symbolSize": 15876, "symbolStrokeWidth": 5,
                                 "labelFontSize": 40.5, "labelFont": "Liberation Sans", "labelColor": "#000000", "labelOffset": 7,
                                 "padding": 11.6, "rowPadding": 12.3, "clipHeight": 44.4,
                                 "strokeColor": "#262626", "fillColor": "white",
                                 "encode": {"symbols": {"update": {"strokeDash": {"signal": "datum.value == 'Ch 1' ? [6, 5] : [1, 0]"}}}}}}
          }
        },
        {
          "data": {"name": "p1b"},
          "mark": {"type": "line", "strokeWidth": 4.5, "clip": true},
          "encoding": {
            "x": {"field": "t", "type": "quantitative", "axis": {"orient": "top", "values": [0, 0.2, 0.4, 0.6, 0.8, 1], "labels": false, "title": null}},
            "y": {"field": "v", "type": "quantitative", "axis": {"orient": "right", "values": [-2, 0, 2], "labels": false, "title": null}},
            "color": {"datum": "Ch 2"}
          }
        }
      ],
      "resolve": {"axis": {"x": "independent", "y": "independent"}}
    },
    {
      "width": 967, "height": 202,
      "layer": [
        {
          "data": {"name": "p2r"},
          "mark": {"type": "line", "color": "#ff0000", "strokeDash": [6, 5], "strokeWidth": 5, "interpolate": "monotone", "clip": true},
          "encoding": {
            "x": {"field": "t", "type": "quantitative", "scale": {"domain": [0, 1], "nice": false, "zero": false},
                  "axis": {"orient": "bottom", "values": [0, 0.2, 0.4, 0.6, 0.8, 1], "labelExpr": "datum.value + ''", "labelPadding": 31, "title": null}},
            "y": {"field": "v", "type": "quantitative", "scale": {"domain": [-2, 2], "nice": false, "zero": false},
                  "axis": {"orient": "left", "values": [-2, 0, 2], "labelExpr": "datum.value + ''", "labelPadding": 20.5, "labelOffset": 6, "title": null}}
          }
        },
        {
          "data": {"name": "p2b"},
          "mark": {"type": "line", "color": "#0000ff", "strokeWidth": 4.5, "interpolate": "monotone", "clip": true},
          "encoding": {
            "x": {"field": "t", "type": "quantitative", "axis": {"orient": "top", "values": [0, 0.2, 0.4, 0.6, 0.8, 1], "labels": false, "title": null}},
            "y": {"field": "v", "type": "quantitative", "axis": {"orient": "right", "values": [-2, 0, 2], "labels": false, "title": null}}
          }
        }
      ],
      "resolve": {"axis": {"x": "independent", "y": "independent"}}
    },
    {
      "width": 967, "height": 202,
      "layer": [
        {
          "data": {"name": "p3r"},
          "mark": {"type": "line", "color": "#ff0000", "strokeDash": [6, 5], "strokeWidth": 5, "clip": true},
          "encoding": {
            "x": {"field": "t", "type": "quantitative", "scale": {"domain": [0, 1], "nice": false, "zero": false},
                  "axis": {"orient": "bottom", "values": [0, 0.2, 0.4, 0.6, 0.8, 1], "labelExpr": "datum.value + ''", "labelPadding": 31, "title": null}},
            "y": {"field": "v", "type": "quantitative", "scale": {"domain": [-0.268, 0.284], "nice": false, "zero": false},
                  "axis": {"orient": "left", "values": [-0.2, 0, 0.2], "labelExpr": "datum.value + ''", "labelPadding": 20.5, "labelOffset": 6, "title": null}}
          }
        },
        {
          "data": {"name": "p3b"},
          "mark": {"type": "line", "color": "#0000ff", "strokeWidth": 4.5, "interpolate": "monotone", "clip": true},
          "encoding": {
            "x": {"field": "t", "type": "quantitative", "axis": {"orient": "top", "values": [0, 0.2, 0.4, 0.6, 0.8, 1], "labels": false, "title": null}},
            "y": {"field": "v", "type": "quantitative", "axis": {"orient": "right", "values": [-0.2, 0, 0.2], "labels": false, "title": null}}
          }
        }
      ],
      "resolve": {"axis": {"x": "independent", "y": "independent"}}
    },
    {
      "width": 967, "height": 202,
      "data": {"name": "p4"},
      "layer": [
        {
          "mark": {"type": "line", "color": "#ff0000", "strokeDash": [6, 5], "strokeWidth": 5, "clip": true},
          "encoding": {
            "x": {"field": "t", "type": "quantitative", "scale": {"domain": [0, 1], "nice": false, "zero": false},
                  "axis": {"orient": "bottom", "values": [0, 0.2, 0.4, 0.6, 0.8, 1], "labelExpr": "datum.value + ''", "labelPadding": 31,
                           "title": "Time (s)", "titleFontSize": 49.5, "titleFont": "Liberation Sans", "titleFontWeight": "normal", "titleColor": "#262626", "titlePadding": 22}},
            "y": {"field": "a", "type": "quantitative", "scale": {"domain": [-0.5, 0.5], "nice": false, "zero": false},
                  "axis": {"orient": "left", "values": [-0.5, 0, 0.5], "labelExpr": "datum.value + ''", "labelPadding": 20.5, "labelOffset": 6, "title": null}}
          }
        },
        {
          "mark": {"type": "line", "color": "#0000ff", "strokeWidth": 5, "clip": true},
          "encoding": {
            "x": {"field": "t", "type": "quantitative", "axis": {"orient": "top", "values": [0, 0.2, 0.4, 0.6, 0.8, 1], "labels": false, "title": null}},
            "y": {"field": "b", "type": "quantitative", "axis": {"orient": "right", "values": [-0.5, 0, 0.5], "labels": false, "title": null}}
          }
        }
      ],
      "resolve": {"axis": {"x": "independent", "y": "independent"}}
    }
  ]
}
